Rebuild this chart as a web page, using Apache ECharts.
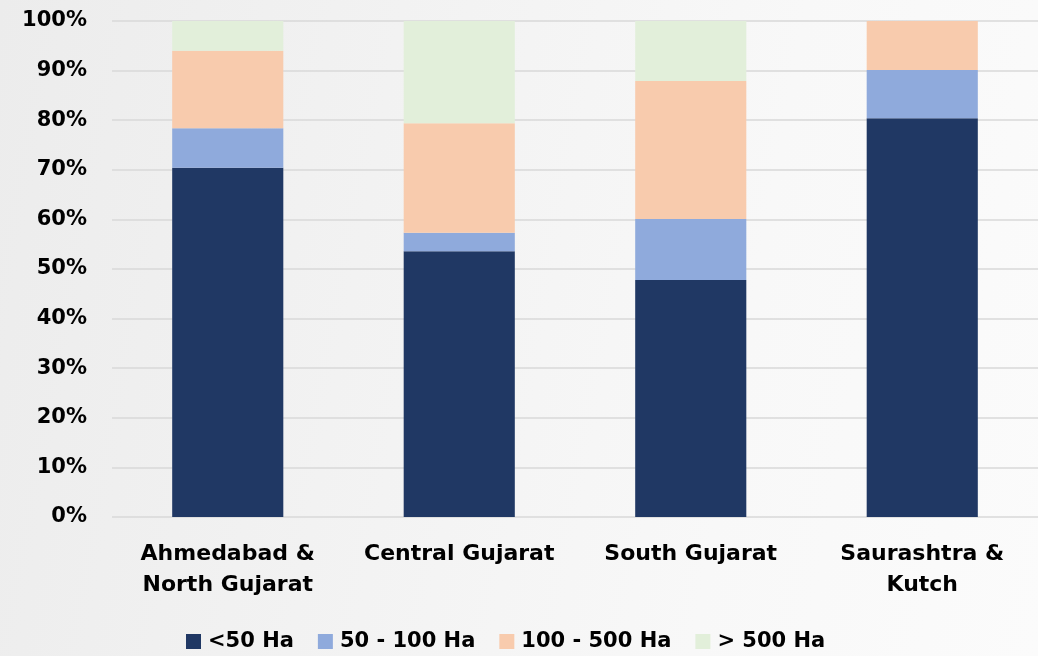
<!DOCTYPE html>
<html>
<head>
<meta charset="utf-8">
<script src="https://cdn.jsdelivr.net/npm/echarts@6/dist/echarts.min.js"></script>
<style>
html,body{margin:0;padding:0;}
#c{width:1038px;height:656px;background:linear-gradient(100deg,#ececec 0%,#f2f2f2 35%,#f8f8f8 70%,#fbfbfb 100%);}
</style>
</head>
<body>
<div id="c"></div>
<script>
const categories = ['Ahmedabad &\nNorth Gujarat', 'Central Gujarat', 'South Gujarat', 'Saurashtra &\nKutch'];
const seriesNames = ['<50 Ha', '50 - 100 Ha', '100 - 500 Ha', '> 500 Ha'];
const lt50 = [70.4, 53.6, 47.8, 80.4];
const s50to100 = [8.0, 3.7, 12.3, 9.7];
const s100to500 = [15.6, 22.1, 27.8, 9.9];
const gt500 = [6.0, 20.6, 12.1, 0];
const values = [lt50, s50to100, s100to500, gt500];
const colors = ['#203864', '#8faadc', '#f8cbad', '#e2efda'];
const FONT = '"DejaVu Sans", sans-serif';

const chart = echarts.init(document.getElementById('c'), null, {renderer: 'canvas'});
chart.setOption({
  backgroundColor: 'transparent',
  animation: false,
  grid: {left: 112, right: -2, top: 21, bottom: 139, containLabel: false},
  legend: {
    bottom: -1, left: 181,
    itemWidth: 15, itemHeight: 15, itemGap: 24,
    icon: 'rect',
    textStyle: {fontFamily: FONT, fontWeight: 'bold', fontSize: 21, color: '#000', padding: [0, 0, 0, 2]},
    data: seriesNames
  },
  xAxis: {
    type: 'category',
    data: categories,
    axisLine: {show: false},
    axisTick: {show: false},
    axisLabel: {fontFamily: FONT, fontWeight: 'bold', fontSize: 22, color: '#000', lineHeight: 31, margin: 22, interval: 0}
  },
  yAxis: {
    type: 'value', min: 0, max: 100, interval: 10,
    axisLine: {show: false}, axisTick: {show: false},
    axisLabel: {formatter: '{value}%', fontFamily: FONT, fontWeight: 'bold', fontSize: 21, color: '#000', margin: 25},
    splitLine: {lineStyle: {color: '#d9d9d9', width: 1.5}}
  },
  series: seriesNames.map((n, i) => ({
    name: n, type: 'bar', stack: 'total', barWidth: '48%',
    data: values[i],
    itemStyle: {color: colors[i]}
  }))
});
</script>
</body>
</html>
